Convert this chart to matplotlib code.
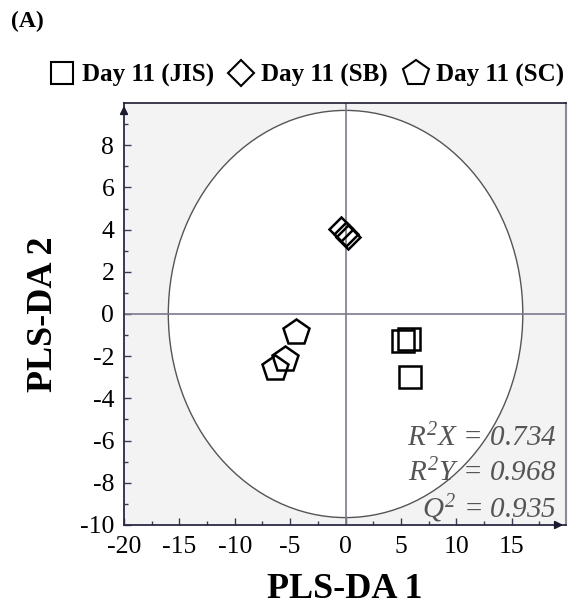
import matplotlib
matplotlib.use("Agg")
import matplotlib.pyplot as plt
from matplotlib.patches import Ellipse
from matplotlib.lines import Line2D
import numpy as np

plt.rcParams['font.family'] = ['Liberation Serif', 'DejaVu Serif']
plt.rcParams['mathtext.fontset'] = 'custom'
plt.rcParams['mathtext.it'] = 'Liberation Serif:italic'
plt.rcParams['mathtext.rm'] = 'Liberation Serif:italic'
plt.rcParams['axes.unicode_minus'] = False

# Data
jis_x = [5.2, 5.75, 5.8]
jis_y = [-1.28, -1.2, -2.98]
sb_x = [-0.45, 0.0, 0.2]
sb_y = [4.05, 3.8, 3.65]
sc_x = [-4.5, -5.45, -6.4]
sc_y = [-0.87, -2.15, -2.54]
labels = ["Day 11 (JIS)", "Day 11 (SB)", "Day 11 (SC)"]
ellipse_rx, ellipse_ry = 16.0, 9.65
stats = ["$R^2X$ = 0.734", "$R^2Y$ = 0.968", "$Q^2$ = 0.935"]

fig = plt.figure(figsize=(5.73, 6.06), dpi=100)
ax = fig.add_axes([0.2164, 0.1337, 0.9878 - 0.2164, 0.830 - 0.1337])
ax.set_facecolor('#f3f3f3')
ax.set_xlim(-20, 19.9)
ax.set_ylim(-10, 10)

ax.add_patch(Ellipse((0, 0), 2 * ellipse_rx, 2 * ellipse_ry, facecolor='white',
                     edgecolor='#555555', lw=1.0, zorder=1))
ax.axhline(0, color='#7a7a8c', lw=1.2, zorder=2)
ax.axvline(0, color='#7a7a8c', lw=1.2, zorder=2)

ax.plot(jis_x, jis_y, 's', ms=16, mfc='none', mec='black', mew=1.8, zorder=3)
ax.plot(sb_x, sb_y, 'D', ms=12.5, mfc='none', mec='black', mew=1.8, zorder=3)
ax.plot(sc_x, sc_y, 'p', ms=19, mfc='none', mec='black', mew=1.8, zorder=3)

ax.set_xticks(np.arange(-20, 16, 5))
ax.set_xticks(np.arange(-20, 20, 2.5), minor=True)
ax.set_yticks(np.arange(-10, 9, 2))
ax.set_yticks(np.arange(-10, 10, 1), minor=True)
ax.tick_params(which='both', direction='in', colors='#3a3a55', labelcolor='black',
               labelsize=18.5, top=False, right=False)
ax.tick_params(which='major', length=5, width=1)
ax.tick_params(which='minor', length=3, width=1)
ax.tick_params(axis='x', pad=8)
ax.tick_params(axis='y', pad=7)

for s in ['left', 'bottom']:
    ax.spines[s].set_color('#2a2a45')
    ax.spines[s].set_linewidth(1.3)
ax.spines['top'].set_color('#1a1a30')
ax.spines['top'].set_linewidth(1.2)
ax.spines['right'].set_color('#8a8a9a')
ax.spines['right'].set_linewidth(1.5)

# arrows on axes
ax.annotate('', xy=(0, 1.0), xycoords='axes fraction', xytext=(0, 0.97),
            arrowprops=dict(arrowstyle='-|>', color='#1a1a30', lw=1.2, mutation_scale=12),
            annotation_clip=False)
ax.annotate('', xy=(1.0, 0), xycoords='axes fraction', xytext=(0.97, 0),
            arrowprops=dict(arrowstyle='-|>', color='#1a1a30', lw=1.2, mutation_scale=12),
            annotation_clip=False)

ax.set_xlabel('PLS-DA 1', fontsize=26, fontweight='bold', labelpad=11)
ax.set_ylabel('PLS-DA 2', fontsize=26, fontweight='bold', labelpad=14)

for i, t in enumerate(stats):
    ax.text(0.978, 0.205 - i * 0.083, t, transform=ax.transAxes, ha='right', va='center',
            fontsize=21, style='italic', color='#555555', zorder=4)

fig.text(0.02, 0.965, '(A)', fontsize=17, fontweight='bold', ha='left', va='center')

handles = [
    Line2D([], [], ls='none', marker='s', ms=16, mfc='none', mec='black', mew=1.5),
    Line2D([], [], ls='none', marker='D', ms=13, mfc='none', mec='black', mew=1.5),
    Line2D([], [], ls='none', marker='p', ms=19, mfc='none', mec='black', mew=1.5),
]
fig.legend(handles, labels, loc='center', bbox_to_anchor=(0.535, 0.876), ncol=3,
           frameon=False, prop={'weight': 'bold', 'size': 18}, handlelength=1.0,
           handletextpad=0.3, columnspacing=0.6, borderpad=0)

fig.savefig('out.png', dpi=100)
